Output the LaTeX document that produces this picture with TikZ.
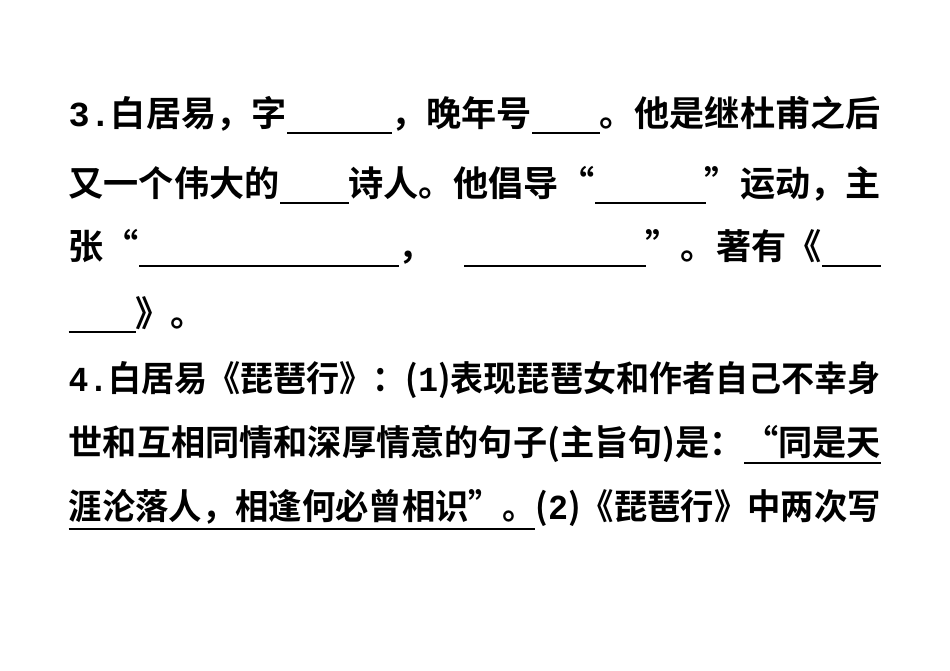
\documentclass[tikz,border=0pt]{standalone}
\usepackage{fontspec}
\usepackage{graphicx}
\setmainfont{Noto Sans CJK SC Bold}
\setmonofont{Liberation Mono}
\usetikzlibrary{positioning}
% blank that stretches with weight #1
\newcommand{\blank}[1]{\leaders\hbox{\rule[-2pt]{0.1pt}{0.6pt}}\hskip 0pt plus #1fill\relax}
\newcommand{\ud}[1]{\underline{#1}}
\newcommand{\row}[1]{\makebox[8.12cm][l]{#1}}
\newcommand{\fitrow}[1]{\resizebox{8.12cm}{\height}{#1}}
\tikzset{
    line/.style={anchor=west, inner sep=0pt, font=\fontsize{10pt}{12pt}\selectfont}
}
\begin{document}
\begin{tikzpicture}[x=1cm,y=1cm]
\useasboundingbox (0,0) rectangle (9.5,-6.71);

\node[line] (l1) at (0.68,-1.15) {\row{{\ttfamily\bfseries 3.}白居易，字\blank{1.23}，晚年号\blank{0.80}。他是继杜甫之后}};
\node[line] (l2) at (0.68,-1.85) {\row{又一个伟大的\blank{0.85}诗人。他倡导“\blank{1.37}”运动，主}};
\node[line] (l3) at (0.68,-2.48) {\row{张“\blank{2.85}，\hspace{0.3cm}\blank{2.0}”。著有《\blank{0.65}}};
\node[line] (l4) at (0.68,-3.15) {\rule[-2pt]{0.67cm}{0.6pt}》。};
\node[line] (l5) at (0.68,-3.80) {\fitrow{{\ttfamily\bfseries 4.}白居易《琵琶行》：({\ttfamily\bfseries 1})表现琵琶女和作者自己不幸身}};
\node[line] (l6) at (0.68,-4.45) {\fitrow{世和互相同情和深厚情意的句子(主旨句)是：\ud{“同是天}}};
\node[line] (l7) at (0.68,-5.10) {\fitrow{\ud{涯沦落人，相逢何必曾相识”。}({\ttfamily\bfseries 2})《琵琶行》中两次写}};

\end{tikzpicture}
\end{document}
